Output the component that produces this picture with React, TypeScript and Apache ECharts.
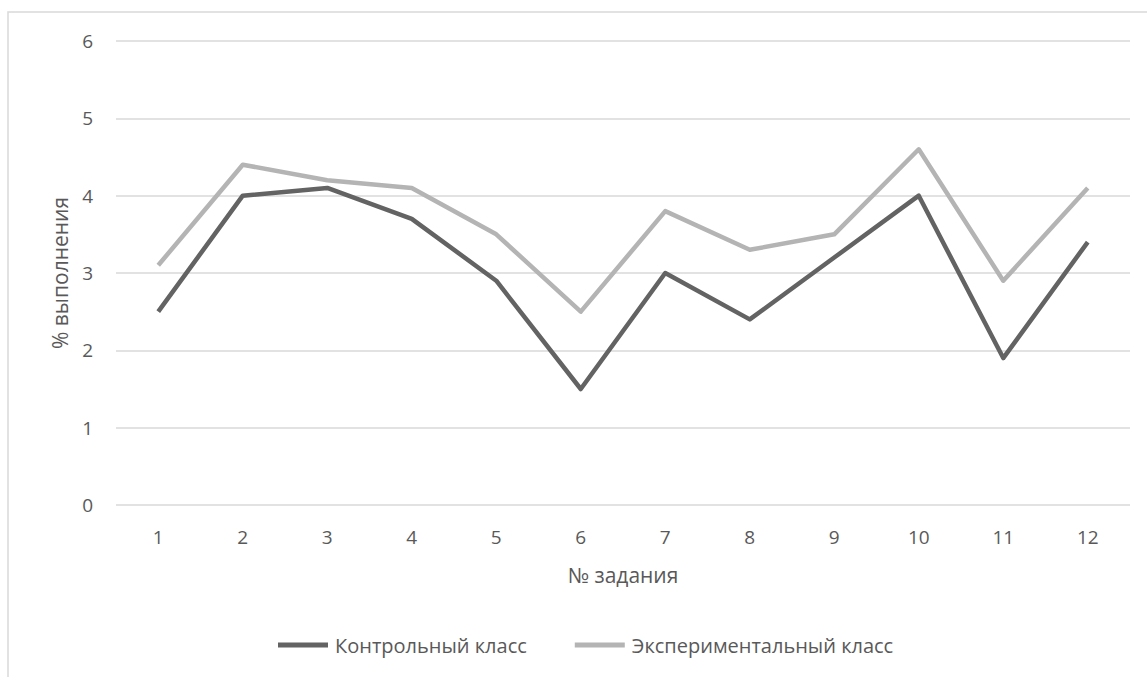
import React, { useEffect, useRef } from "react";
import * as echarts from "echarts";

const tasks = ["1", "2", "3", "4", "5", "6", "7", "8", "9", "10", "11", "12"];
const controlClass = [2.5, 4.0, 4.1, 3.7, 2.9, 1.5, 3.0, 2.4, 3.2, 4.0, 1.9, 3.4];
const experimentalClass = [3.1, 4.4, 4.2, 4.1, 3.5, 2.5, 3.8, 3.3, 3.5, 4.6, 2.9, 4.1];
const seriesNames = ["Контрольный класс", "Экспериментальный класс"];

const FONT = "'Open Sans', 'Noto Sans', sans-serif";
const TEXT = "#595959";

export default function App() {
  const ref = useRef<HTMLDivElement>(null);

  useEffect(() => {
    document.body.style.margin = "0";
    if (!ref.current) return;
    const chart = echarts.init(ref.current, undefined, { renderer: "svg" });
    chart.setOption({
      animation: false,
      backgroundColor: "#ffffff",
      textStyle: { fontFamily: FONT, color: TEXT },
      graphic: [
        {
          type: "rect",
          shape: { x: 8, y: 12, width: 1200, height: 700 },
          style: { fill: "none", stroke: "#d9d9d9", lineWidth: 1.5 },
          silent: true,
          z: 100,
        },
      ],
      grid: { left: 116, right: 17, top: 41, bottom: 172, containLabel: false },
      legend: {
        top: 630,
        left: 273,
        icon: "rect",
        itemWidth: 50,
        itemHeight: 5,
        itemGap: 48,
        textStyle: { fontFamily: FONT, fontSize: 20, color: TEXT, padding: [0, 0, 0, 2] },
        data: seriesNames,
      },
      xAxis: {
        type: "category",
        data: tasks,
        boundaryGap: true,
        name: "№ задания",
        nameLocation: "middle",
        nameGap: 59,
        nameTextStyle: { fontFamily: FONT, fontSize: 21, color: TEXT },
        axisLine: { show: false },
        axisTick: { show: false },
        axisLabel: { fontFamily: FONT, fontSize: 19, color: TEXT, margin: 22 },
      },
      yAxis: {
        type: "value",
        min: 0,
        max: 6,
        interval: 1,
        name: "% выполнения",
        nameLocation: "middle",
        nameGap: 46,
        nameTextStyle: { fontFamily: FONT, fontSize: 21, color: TEXT },
        axisLine: { show: false },
        axisTick: { show: false },
        axisLabel: { fontFamily: FONT, fontSize: 19, color: TEXT, margin: 23 },
        splitLine: { lineStyle: { color: "#d9d9d9", width: 1.5 } },
      },
      series: [
        {
          name: seriesNames[0],
          type: "line",
          data: controlClass,
          symbol: "none",
          lineStyle: { color: "#636363", width: 4.5, join: "round" },
          itemStyle: { color: "#636363" },
        },
        {
          name: seriesNames[1],
          type: "line",
          data: experimentalClass,
          symbol: "none",
          lineStyle: { color: "#b4b4b4", width: 4.5, join: "round" },
          itemStyle: { color: "#b4b4b4" },
        },
      ],
    });
    return () => chart.dispose();
  }, []);

  return <div ref={ref} style={{ width: 1147, height: 677 }} />;
}
